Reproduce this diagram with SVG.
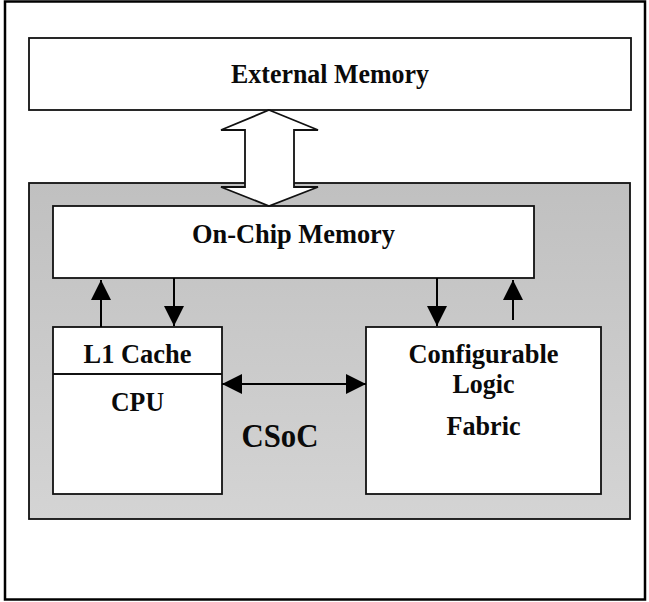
<svg xmlns="http://www.w3.org/2000/svg" width="649" height="602" viewBox="0 0 649 602">
  <style>
    .box { fill: #ffffff; stroke: #111111; stroke-width: 1.8; }
    .lbl { font-family: "Liberation Serif", "Times New Roman", serif; font-weight: bold; font-size: 28px; fill: #0a0a0a; text-anchor: middle; }
    .wire { stroke: #000000; stroke-width: 2; fill: none; }
  </style>
  <defs>
    <linearGradient id="chipFill" x1="0" y1="0" x2="0" y2="1">
      <stop offset="0" stop-color="#c0c0c0"/>
      <stop offset="1" stop-color="#d4d4d4"/>
    </linearGradient>
    <marker id="head" viewBox="0 0 20 20" refX="20" refY="10" markerWidth="20" markerHeight="20" markerUnits="userSpaceOnUse" orient="auto-start-reverse">
      <path d="M0,0 L20,10 L0,20 z" fill="#000000"/>
    </marker>
  </defs>

  <!-- page frame -->
  <rect x="5" y="1.5" width="640" height="598" fill="#ffffff" stroke="#000000" stroke-width="2.5"/>

  <g id="external-memory">
    <rect class="box" x="29" y="38" width="602" height="72"/>
    <text class="lbl" x="330" y="83" textLength="198" lengthAdjust="spacingAndGlyphs">External Memory</text>
  </g>

  <g id="csoc">
    <rect x="29" y="183" width="601" height="336" fill="url(#chipFill)" stroke="#111111" stroke-width="1.8"/>
    <text class="lbl" x="280" y="447" style="font-size:34px" textLength="77" lengthAdjust="spacingAndGlyphs">CSoC</text>
  </g>

  <g id="on-chip-memory">
    <rect class="box" x="53" y="206" width="481" height="72"/>
    <text class="lbl" x="293.5" y="243" textLength="203" lengthAdjust="spacingAndGlyphs">On-Chip Memory</text>
  </g>

  <g id="cpu">
    <rect class="box" x="53" y="327" width="169" height="167"/>
    <line x1="53" y1="374" x2="222" y2="374" stroke="#111111" stroke-width="1.8"/>
    <text class="lbl" x="137.5" y="362.5" textLength="108" lengthAdjust="spacingAndGlyphs">L1 Cache</text>
    <text class="lbl" x="137.5" y="410.5" textLength="53" lengthAdjust="spacingAndGlyphs">CPU</text>
  </g>

  <g id="configurable-logic">
    <rect class="box" x="366" y="327" width="235" height="167"/>
    <text class="lbl" x="483.5" y="362.5" textLength="150" lengthAdjust="spacingAndGlyphs">Configurable</text>
    <text class="lbl" x="483.5" y="393" textLength="62" lengthAdjust="spacingAndGlyphs">Logic</text>
    <text class="lbl" x="483.5" y="435" textLength="74" lengthAdjust="spacingAndGlyphs">Fabric</text>
  </g>

  <g id="connectors">
    <!-- wide bus between external and on-chip memory -->
    <polygon points="269,110 318,130 294,130 294,187 318,187 269,206 221,187 245,187 245,130 221,130" fill="#ffffff" stroke="#111111" stroke-width="1.8" stroke-linejoin="miter"/>
    <!-- cache to on-chip memory -->
    <line class="wire" x1="101" y1="327" x2="101" y2="280" marker-end="url(#head)"/>
    <line class="wire" x1="174" y1="278" x2="174" y2="326" marker-end="url(#head)"/>
    <!-- fabric to on-chip memory -->
    <line class="wire" x1="437" y1="278" x2="437" y2="326" marker-end="url(#head)"/>
    <line class="wire" x1="513" y1="320" x2="513" y2="280" marker-end="url(#head)"/>
    <!-- cpu to fabric -->
    <line class="wire" x1="222" y1="384" x2="366" y2="384" marker-start="url(#head)" marker-end="url(#head)"/>
  </g>
</svg>
